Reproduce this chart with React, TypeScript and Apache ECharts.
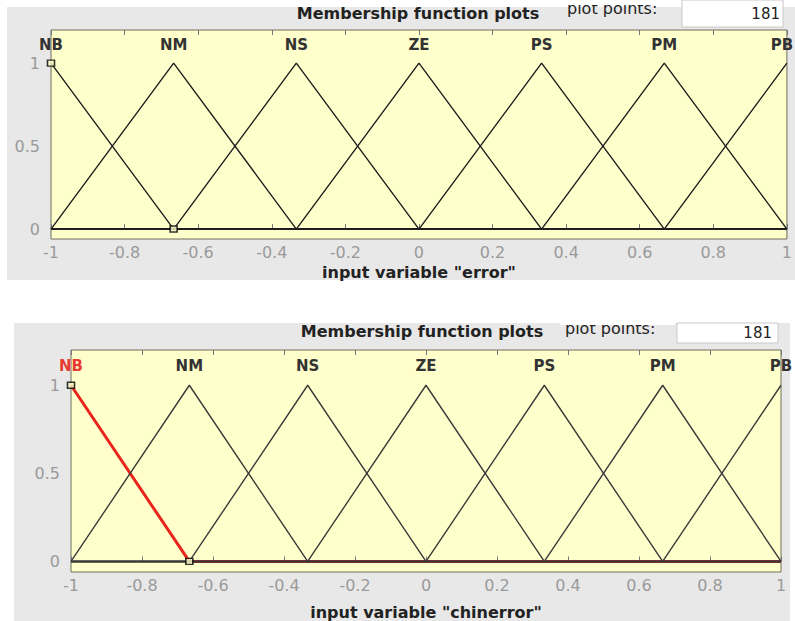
import React, { useEffect, useRef } from "react";
import * as echarts from "echarts";

// Membership functions of the two fuzzy input variables (trimf parameters [a, b, c])
const mfLabels = ["NB", "NM", "NS", "ZE", "PS", "PM", "PB"];
const mfParams: number[][] = [
  [-1.3333, -1, -0.6667],
  [-1, -0.6667, -0.3333],
  [-0.6667, -0.3333, 0],
  [-0.3333, 0, 0.3333],
  [0, 0.3333, 0.6667],
  [0.3333, 0.6667, 1],
  [0.6667, 1, 1.3333],
];
const variableNames = ["error", "chinerror"];
const plotPoints = 181;
const yTickValues = [0, 0.5, 1];
// Selected MF vertices shown with square handles
const handlePoints = [
  [-1, 1],
  [-0.6667, 0],
];

const X_MIN = -1;
const X_MAX = 1;
const Y_MIN = -0.06;
const Y_MAX = 1.2;
const LABEL_Y = 1.11;

const FONT = "DejaVu Sans";
const YELLOW = "#ffffcc";
const PANEL_GREY = "#e8e8e8";

// Polyline of a triangular MF over the variable range
function trimfVertices(p: number[]): number[][] {
  const [a, b, c] = p;
  const f = (x: number) => Math.max(Math.min((x - a) / (b - a), (c - x) / (c - b)), 0);
  const xs = Array.from(new Set([X_MIN, a, b, c, X_MAX]))
    .filter((x) => x >= X_MIN && x <= X_MAX)
    .sort((u, v) => u - v);
  return xs.map((x) => [x, f(x)]);
}

const grids = [
  { left: 51, top: 30, width: 741, height: 209, nameGap: 25 },
  { left: 71, top: 350, width: 710, height: 229, nameGap: 32 },
];

export default function App() {
  const ref = useRef<HTMLDivElement>(null);

  useEffect(() => {
    if (!ref.current) return;
    const chart = echarts.init(ref.current, undefined, { renderer: "svg" });

    const xAxes: any[] = [];
    const yAxes: any[] = [];
    const series: any[] = [];

    grids.forEach((g, gi) => {
      const tickStyle = { inside: true, length: 5, lineStyle: { color: "#777", width: 1 } };
      xAxes.push({
        type: "value",
        gridIndex: gi,
        position: "bottom",
        min: X_MIN,
        max: X_MAX,
        interval: 0.2,
        axisLine: { show: false },
        axisTick: tickStyle,
        splitLine: { show: false },
        axisLabel: { color: "#9a9a9a", fontSize: 16, fontFamily: FONT, margin: 5, lineHeight: 16 },
        name: `input variable "${variableNames[gi]}"`,
        nameLocation: "middle",
        nameGap: g.nameGap,
        nameTextStyle: { color: "#222", fontSize: 16, fontWeight: "bold", fontFamily: FONT, lineHeight: 16 },
      });
      xAxes.push({
        type: "value",
        gridIndex: gi,
        position: "top",
        min: X_MIN,
        max: X_MAX,
        interval: 0.2,
        axisLine: { show: false },
        axisTick: tickStyle,
        splitLine: { show: false },
        axisLabel: { show: false },
      });
      yAxes.push({
        type: "value",
        gridIndex: gi,
        min: Y_MIN,
        max: Y_MAX,
        axisLine: { show: false },
        axisTick: { show: false },
        splitLine: { show: false },
        axisLabel: {
          customValues: yTickValues,
          color: "#9a9a9a",
          fontSize: 16,
          fontFamily: FONT,
          margin: 11,
        },
      });

      const xi = gi * 2;
      const highlight = gi === 1;
      const lineColor = gi === 0 ? "#1e1e1e" : "#3a3a3a";

      mfParams.forEach((p, mi) => {
        const selected = highlight && mi === 0;
        series.push({
          type: "line",
          name: mfLabels[mi],
          xAxisIndex: xi,
          yAxisIndex: gi,
          data: trimfVertices(p),
          showSymbol: false,
          symbol: "none",
          z: selected ? 2 : 3,
          lineStyle: { color: selected ? "#e8241c" : lineColor, width: selected ? 3 : 1.4 },
        });
      });

      // MF names above the peaks, kept inside the canvas
      series.push({
        type: "custom",
        xAxisIndex: xi,
        yAxisIndex: gi,
        clip: false,
        z: 5,
        data: mfParams.map((p) => [p[1], LABEL_Y]),
        renderItem: (params: any, api: any) => {
          const pt = api.coord([api.value(0), api.value(1)]);
          const idx = params.dataIndex;
          const fill = highlight && idx === 0 ? "#e83a30" : "#333";
          const x = Math.min(pt[0], api.getWidth() - 13);
          return {
            type: "text",
            x,
            y: pt[1],
            style: {
              text: mfLabels[idx],
              fill,
              font: `bold 15px "${FONT}"`,
              align: "center",
              verticalAlign: "middle",
              textAlign: "center",
              textVerticalAlign: "middle",
            },
          };
        },
      });

      series.push({
        type: "scatter",
        xAxisIndex: xi,
        yAxisIndex: gi,
        data: handlePoints,
        symbol: "rect",
        symbolSize: [7, 6],
        z: 6,
        itemStyle: { color: YELLOW, borderColor: "#000", borderWidth: 1.5 },
      });
    });

    const textStyle = (text: string, x: number, y: number, size: number, weight: string, align: string, color = "#222") => ({
      type: "text",
      z: 20,
      style: {
        text,
        x,
        y,
        fill: color,
        font: `${weight} ${size}px "${FONT}"`,
        textAlign: align,
        textVerticalAlign: "middle",
        align,
        verticalAlign: "middle",
      },
    });

    chart.setOption({
      animation: false,
      backgroundColor: "#ffffff",
      grid: grids.map((g) => ({
        left: g.left,
        top: g.top,
        width: g.width,
        height: g.height,
        show: true,
        backgroundColor: YELLOW,
        borderColor: "#6e6e5a",
        borderWidth: 1,
        containLabel: false,
      })),
      xAxis: xAxes,
      yAxis: yAxes,
      series,
      graphic: [
        { type: "rect", z: -10, shape: { x: 7, y: 7, width: 788, height: 273 }, style: { fill: PANEL_GREY } },
        { type: "rect", z: -10, shape: { x: 14, y: 323, width: 776, height: 298 }, style: { fill: PANEL_GREY } },
        // top panel header
        textStyle("Membership function plots", 418, 13, 16, "bold", "center"),
        textStyle("plot points:", 567, 8, 16, "normal", "left"),
        { type: "rect", z: 21, shape: { x: 560, y: 0, width: 115, height: 5 }, style: { fill: "#fff" } },
        { type: "rect", z: 19, shape: { x: 682, y: 0, width: 101, height: 27 }, style: { fill: "#fff", stroke: "#c8c8c8", lineWidth: 1 } },
        textStyle(String(plotPoints), 780, 14, 15, "normal", "right"),
        // bottom panel header
        textStyle("Membership function plots", 422, 331, 16, "bold", "center"),
        textStyle("plot points:", 565, 328, 16, "normal", "left"),
        { type: "rect", z: 21, shape: { x: 560, y: 300, width: 115, height: 25 }, style: { fill: "#fff" } },
        { type: "rect", z: 19, shape: { x: 677, y: 323, width: 101, height: 20 }, style: { fill: "#fff", stroke: "#c8c8c8", lineWidth: 1 } },
        textStyle(String(plotPoints), 772, 333, 15, "normal", "right"),
      ],
    });

    return () => chart.dispose();
  }, []);

  return (
    <div
      ref={ref}
      style={{ position: "absolute", left: 0, top: 0, width: 795, height: 621 }}
    />
  );
}
